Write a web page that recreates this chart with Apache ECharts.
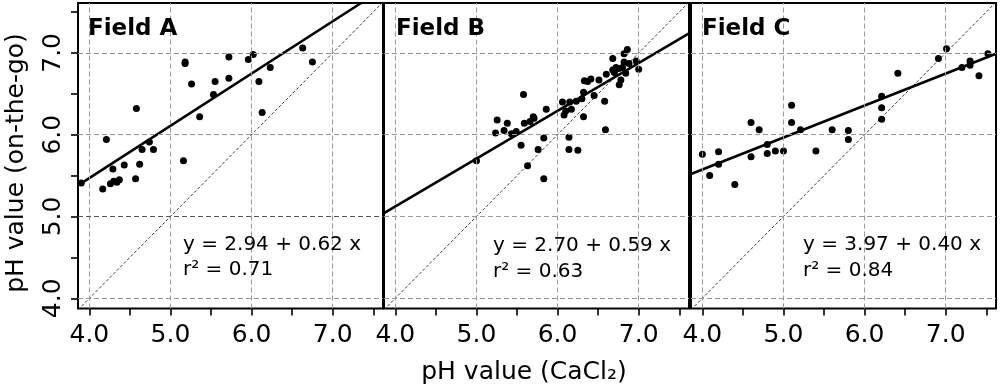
<!DOCTYPE html>
<html>
<head>
<meta charset="utf-8">
<script src="https://cdn.jsdelivr.net/npm/echarts@6/dist/echarts.min.js"></script>
<style>html,body{margin:0;padding:0;background:#fff}#c{width:1000px;height:387px}</style>
</head>
<body>
<div id="c"></div>
<script>
// ---- data ----
const tickValues = [4, 4.5, 5, 5.5, 6, 6.5, 7, 7.5];
const labelValues = [4, 5, 6, 7];
const gridValues = [4, 5, 6, 7];
const fieldNames = ['Field A', 'Field B', 'Field C'];
const equations = ['y = 2.94 + 0.62 x', 'y = 2.70 + 0.59 x', 'y = 3.97 + 0.40 x'];
const rSquared = ['r\u00b2 = 0.71', 'r\u00b2 = 0.63', 'r\u00b2 = 0.84'];
const xTitle = 'pH value (CaCl\u2082)';
const yTitle = 'pH value (on-the-go)';

const fieldA = [
  [3.90,5.41],[4.165,5.335],[4.21,5.94],[4.26,5.40],[4.29,5.58],[4.30,5.43],[4.34,5.42],[4.37,5.45],
  [4.43,5.63],[4.57,5.46],[4.58,6.32],[4.62,5.64],[4.65,5.82],[4.74,5.91],[4.79,5.82],[5.16,5.68],
  [5.18,6.89],[5.18,6.87],[5.26,6.62],[5.36,6.22],[5.53,6.49],[5.55,6.65],[5.72,6.95],[5.72,6.69],
  [5.96,6.92],[6.02,6.98],[6.09,6.65],[6.13,6.27],[6.23,6.82],[6.63,7.06],[6.75,6.89]
];
const fieldB = [
  [5.00,5.68],[5.235,6.02],[5.255,6.18],[5.34,6.05],[5.38,6.14],[5.43,6.01],[5.49,6.04],[5.55,5.87],
  [5.58,6.49],[5.59,6.14],[5.63,5.62],[5.66,6.16],[5.70,6.22],[5.71,6.20],[5.76,5.82],[5.83,5.96],
  [5.83,5.46],[5.86,6.31],[6.06,6.40],[6.08,6.24],[6.10,6.29],[6.14,5.97],[6.14,5.82],[6.15,6.40],
  [6.17,6.31],[6.25,5.81],[6.23,6.41],[6.30,6.44],[6.32,6.22],[6.32,6.52],[6.33,6.66],[6.37,6.65],
  [6.41,6.68],[6.45,6.48],[6.51,6.67],[6.58,6.41],[6.60,6.74],[6.59,6.06],[6.68,6.93],[6.68,6.79],
  [6.70,6.76],[6.72,6.82],[6.75,6.81],[6.76,6.61],[6.78,6.67],[6.80,6.82],[6.82,6.99],[6.82,6.89],
  [6.84,6.75],[6.86,7.04],[6.88,6.87],[6.97,6.90],[7.00,6.80]
];
const fieldC = [
  [4.00,5.76],[4.09,5.50],[4.20,5.79],[4.20,5.64],[4.40,5.39],[4.60,6.15],[4.60,5.73],[4.70,6.06],
  [4.80,5.88],[4.80,5.77],[4.90,5.80],[5.00,5.80],[5.10,6.36],[5.10,6.15],[5.21,6.06],[5.40,5.80],
  [5.60,6.06],[5.80,6.05],[5.80,5.94],[6.21,6.47],[6.21,6.33],[6.21,6.19],[6.41,6.75],[6.91,6.93],
  [7.01,7.05],[7.20,6.82],[7.30,6.90],[7.30,6.85],[7.41,6.72],[7.52,6.99]
];
const fitA = [[3.86,5.38],[7.35,7.61]];
const fitB = [[3.86,5.04],[7.62,7.24]];
const fitC = [[3.86,5.52],[7.62,6.99]];
const oneToOne = [[3.86,3.86],[7.62,7.62]];

const fields = [fieldA, fieldB, fieldC];
const fits = [fitA, fitB, fitC];

// ---- layout ----
const FONT = 'DejaVu Sans';
const lefts = [78, 384, 691];
const W = 305, TOP = 3, H = 305.5;
const XMIN = 3.86, XMAX = 7.62, YMIN = 3.875, YMAX = 7.61;
const eqLeft = [183, 493, 803];

const grid = [], xAxis = [], yAxis = [], series = [], graphic = [];
lefts.forEach((l, i) => {
  grid.push({left: l, top: TOP, width: W, height: H, show: true, borderColor: '#000', borderWidth: 2, backgroundColor: '#fff', containLabel: false});
  xAxis.push({
    type: 'value', gridIndex: i, min: XMIN, max: XMAX,
    axisLine: {show: false}, splitLine: {show: false},
    axisTick: {show: true, inside: false, length: 7, customValues: tickValues, lineStyle: {color: '#000', width: 1.6}},
    axisLabel: {show: true, customValues: labelValues, margin: 14, fontFamily: FONT, fontSize: 25, color: '#000',
      formatter: v => Number(v).toFixed(1)}
  });
  yAxis.push({
    type: 'value', gridIndex: i, min: YMIN, max: YMAX,
    axisLine: {show: false}, splitLine: {show: false},
    axisTick: {show: i === 0, inside: false, length: 7, customValues: tickValues, lineStyle: {color: '#000', width: 1.6}},
    axisLabel: {show: i === 0, customValues: labelValues, rotate: 90, margin: 12, fontFamily: FONT, fontSize: 25, color: '#000',
      formatter: v => Number(v).toFixed(1)}
  });
  const gl = {type: [5, 3], color: '#999', width: 1};
  const mlData = gridValues.map(v => ({xAxis: v})).concat(gridValues.map(v => {
    const d = {yAxis: v};
    if (i === 0 && v === 5) d.lineStyle = {color: '#555', type: [5, 3], width: 1.2};
    return d;
  }));
  series.push({
    type: 'line', xAxisIndex: i, yAxisIndex: i, data: [], silent: true, z: 1,
    markLine: {silent: true, symbol: ['none', 'none'], label: {show: false}, lineStyle: gl, data: mlData, animation: false}
  });
  series.push({
    type: 'line', xAxisIndex: i, yAxisIndex: i, data: oneToOne, showSymbol: false, symbol: 'none', clip: true, z: 2,
    lineStyle: {color: '#222', width: 0.9, type: [3, 2]}, silent: true
  });
  series.push({
    type: 'line', xAxisIndex: i, yAxisIndex: i, data: fits[i], showSymbol: false, symbol: 'none', clip: true, z: 3,
    lineStyle: {color: '#000', width: 2.6}, silent: true
  });
  series.push({
    type: 'scatter', xAxisIndex: i, yAxisIndex: i, data: fields[i], symbol: 'circle', symbolSize: 7, z: 4,
    itemStyle: {color: '#000', opacity: 1}, silent: true
  });
  graphic.push({type: 'text', x: [88, 396, 702][i], y: 29, z: 10,
    style: {text: fieldNames[i], font: 'bold 23px "' + FONT + '"', fill: '#000', textAlign: 'left', textVerticalAlign: 'middle'}});
  graphic.push({type: 'text', x: eqLeft[i], y: [245, 246, 245][i], z: 10,
    style: {text: equations[i], font: '20px "' + FONT + '"', fill: '#000', textAlign: 'left', textVerticalAlign: 'middle'}});
  graphic.push({type: 'text', x: eqLeft[i], y: [270, 272, 271][i], z: 10,
    style: {text: rSquared[i], font: '20px "' + FONT + '"', fill: '#000', textAlign: 'left', textVerticalAlign: 'middle'}});
});
graphic.push({type: 'text', x: 524, y: 372, z: 10,
  style: {text: xTitle, font: '25px "' + FONT + '"', fill: '#000', textAlign: 'center', textVerticalAlign: 'middle'}});
graphic.push({type: 'text', x: 16, y: 163, rotation: Math.PI / 2, z: 10,
  style: {text: yTitle, font: '25px "' + FONT + '"', fill: '#000', textAlign: 'center', textVerticalAlign: 'middle'}});

const chart = echarts.init(document.getElementById('c'), null, {renderer: 'canvas'});
chart.setOption({animation: false, backgroundColor: '#fff', grid, xAxis, yAxis, series, graphic});
</script>
</body>
</html>
